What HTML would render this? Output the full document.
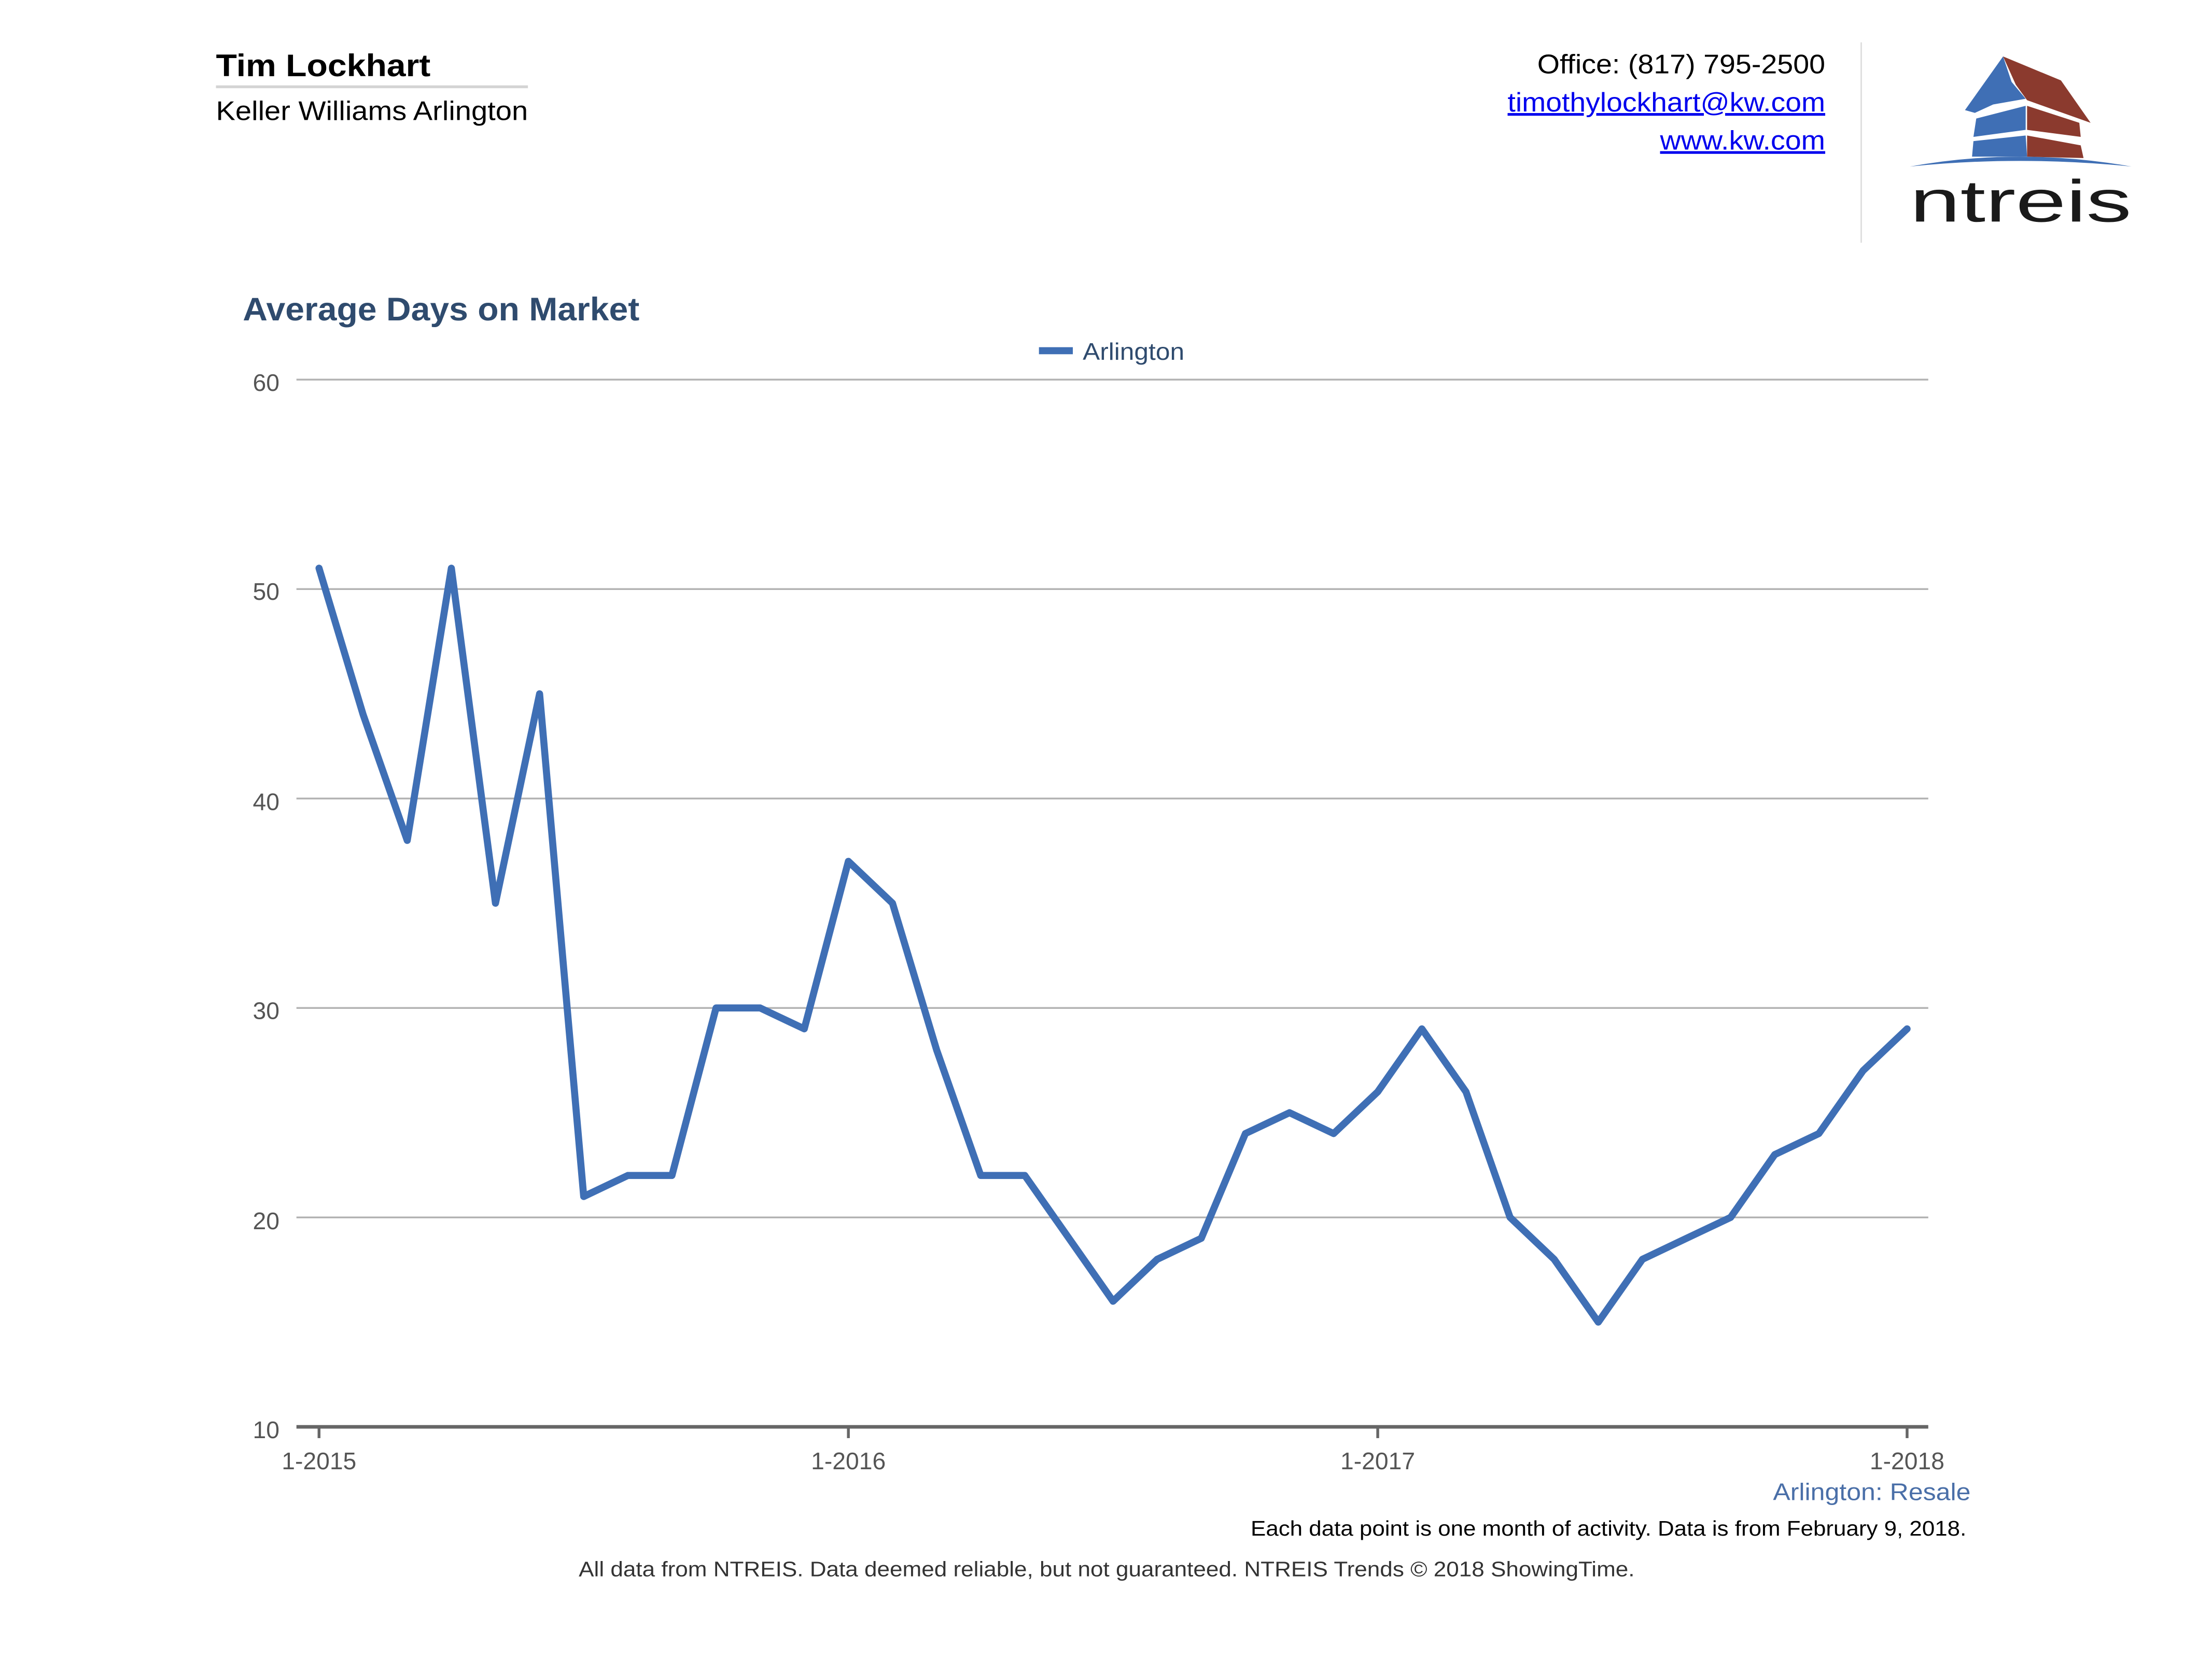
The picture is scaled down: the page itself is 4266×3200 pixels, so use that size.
<!DOCTYPE html>
<html><head><meta charset="utf-8"><style>
html,body{margin:0;padding:0;background:#fff;width:4266px;height:3200px;overflow:hidden}
svg{display:block}
text{font-family:"Liberation Sans",Arial,sans-serif}
</style></head><body>
<svg width="4266" height="3200" viewBox="0 0 1567 1175.5" preserveAspectRatio="none" xmlns="http://www.w3.org/2000/svg">
<rect width="1567" height="1175.5" fill="#fff"/>
<!-- header -->
<text x="153" y="54" font-size="22" font-weight="bold" fill="#000" textLength="152" lengthAdjust="spacingAndGlyphs">Tim Lockhart</text>
<rect x="153" y="60.5" width="221" height="2" fill="#d4d4d4"/>
<text x="153" y="85" font-size="19" fill="#000" textLength="221" lengthAdjust="spacingAndGlyphs">Keller Williams Arlington</text>
<text x="1089" y="52" font-size="19" fill="#000" textLength="204" lengthAdjust="spacingAndGlyphs">Office: (817) 795-2500</text>
<text x="1068" y="79" font-size="19" fill="#0000ee" text-decoration="underline" textLength="225" lengthAdjust="spacingAndGlyphs">timothylockhart@kw.com</text>
<text x="1176" y="106" font-size="19" fill="#0000ee" text-decoration="underline" textLength="117" lengthAdjust="spacingAndGlyphs">www.kw.com</text>
<rect x="1318" y="30" width="1" height="142" fill="#ddd"/>
<!-- logo -->
<g>
<path d="M1353,118 Q1430,104 1510,118 Q1430,110 1353,118 Z" fill="#3f6fb5"/>
<polygon points="1419,40 1392,78 1399,80 1412,74 1435,70 1425,58" fill="#3f6fb5"/>
<polygon points="1419,40 1460,57 1481,87 1436,71 1428,60" fill="#8b3a2e"/>
<polygon points="1400,84 1435,75 1435,92 1398,97" fill="#3f6fb5"/>
<polygon points="1436,75 1473,87 1474,97 1436,92" fill="#8b3a2e"/>
<polygon points="1398,100 1435,96 1436,111 1397,111" fill="#3f6fb5"/>
<polygon points="1436,96 1474,103 1476,112 1436,111" fill="#8b3a2e"/>
<text x="1353" y="157" font-size="42" fill="#1a1a1a" textLength="157" lengthAdjust="spacingAndGlyphs" font-family="DejaVu Sans, sans-serif">ntreis</text>
</g>
<!-- title -->
<text x="172" y="227" font-size="23" font-weight="bold" fill="#2f4b6e" textLength="281" lengthAdjust="spacingAndGlyphs">Average Days on Market</text>
<rect x="736" y="246" width="24" height="5" fill="#3f6fb5"/>
<text x="767" y="255" font-size="17" fill="#2f4b6e" textLength="72" lengthAdjust="spacingAndGlyphs">Arlington</text>
<!-- grid -->
<g stroke="#b3b3b3" stroke-width="1.3">
<line x1="210" y1="269" x2="1366" y2="269"/>
<line x1="210" y1="417.4" x2="1366" y2="417.4"/>
<line x1="210" y1="565.8" x2="1366" y2="565.8"/>
<line x1="210" y1="714.2" x2="1366" y2="714.2"/>
<line x1="210" y1="862.6" x2="1366" y2="862.6"/>
</g>
<line x1="210" y1="1011" x2="1366" y2="1011" stroke="#666" stroke-width="2.5"/>
<g stroke="#666" stroke-width="2">
<line x1="226" y1="1011" x2="226" y2="1019"/>
<line x1="601" y1="1011" x2="601" y2="1019"/>
<line x1="976" y1="1011" x2="976" y2="1019"/>
<line x1="1351" y1="1011" x2="1351" y2="1019"/>
</g>
<g font-size="17" fill="#555" text-anchor="end">
<text x="198" y="277">60</text>
<text x="198" y="425">50</text>
<text x="198" y="574">40</text>
<text x="198" y="722">30</text>
<text x="198" y="871">20</text>
<text x="198" y="1019">10</text>
</g>
<g font-size="17" fill="#555" text-anchor="middle">
<text x="226" y="1041">1-2015</text>
<text x="601" y="1041">1-2016</text>
<text x="976" y="1041">1-2017</text>
<text x="1351" y="1041">1-2018</text>
</g>
<polyline fill="none" stroke="#3f6fb5" stroke-width="5" stroke-linejoin="round" stroke-linecap="round" points="226,402.6 257.25,506.4 288.5,595.5 319.75,402.6 351,640 382.25,491.6 413.5,847.8 444.75,832.9 476,832.9 507.25,714.2 538.5,714.2 569.75,729 601,610.3 632.25,640 663.5,743.9 694.75,832.9 726,832.9 757.25,877.4 788.5,922 819.75,892.3 851,877.4 882.25,803.2 913.5,788.4 944.75,803.2 976,773.6 1007.25,729 1038.5,773.6 1069.75,862.6 1101,892.3 1132.25,936.8 1163.5,892.3 1194.75,877.4 1226,862.6 1257.25,818.1 1288.5,803.2 1319.75,758.7 1351,729"/>
<text x="1256" y="1063" font-size="17" fill="#4a6fa8" textLength="140" lengthAdjust="spacingAndGlyphs">Arlington: Resale</text>
<text x="886" y="1088" font-size="15" fill="#000" textLength="507" lengthAdjust="spacingAndGlyphs">Each data point is one month of activity. Data is from February 9, 2018.</text>
<text x="410" y="1117" font-size="15" fill="#333" textLength="748" lengthAdjust="spacingAndGlyphs">All data from NTREIS. Data deemed reliable, but not guaranteed. NTREIS Trends © 2018 ShowingTime.</text>
</svg>
</body></html>
